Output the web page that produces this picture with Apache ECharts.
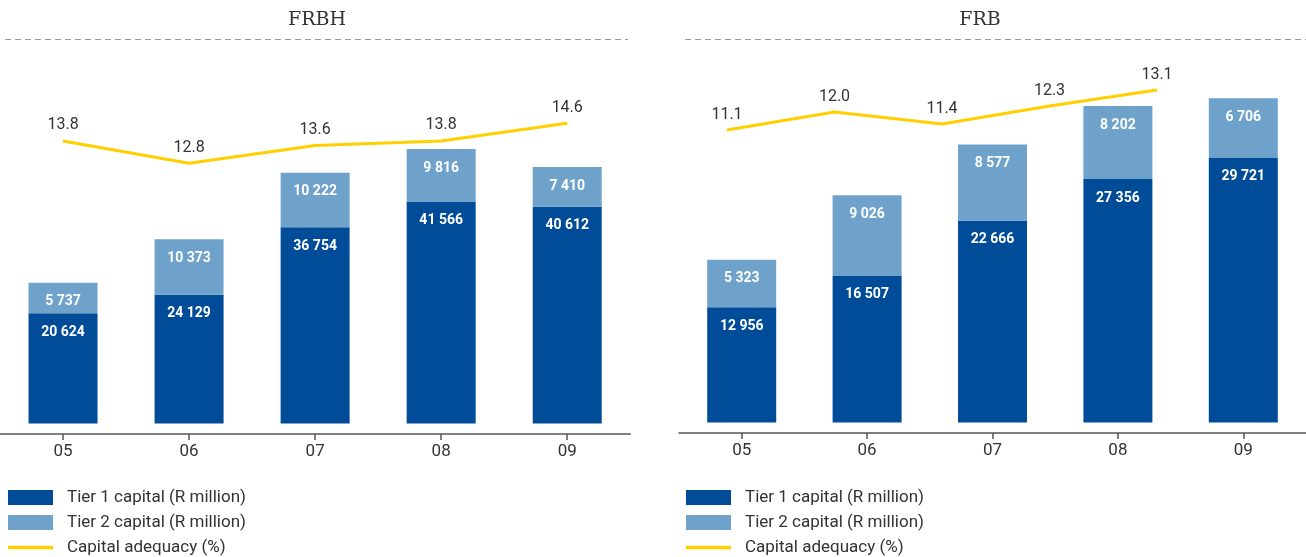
<!DOCTYPE html>
<html>
<head>
<meta charset="utf-8">
<script src="https://cdn.jsdelivr.net/npm/echarts@6/dist/echarts.min.js"></script>
<style>
html,body{margin:0;padding:0;background:#fff;}
#chart{width:1306px;height:557px;}
</style>
</head>
<body>
<div id="chart"></div>
<script>
const categories = ['05', '06', '07', '08', '09'];
const frbhTier1 = [20624, 24129, 36754, 41566, 40612];
const frbhTier2 = [5737, 10373, 10222, 9816, 7410];
const frbhCar = [13.8, 12.8, 13.6, 13.8, 14.6];
const frbTier1 = [12956, 16507, 22666, 27356, 29721];
const frbTier2 = [5323, 9026, 8577, 8202, 6706];
const frbCar = [11.1, 12.0, 11.4, 12.3, 13.1];
const panelTitles = ['FRBH', 'FRB'];
const seriesNames = ['Tier 1 capital (R million)', 'Tier 2 capital (R million)', 'Capital adequacy (%)'];

const DARK = '#014C98';
const LIGHT = '#6FA2CB';
const YELLOW = '#FFCF00';

function fmtThousands(v) {
  return String(v).replace(/\B(?=(\d{3})+(?!\d))/g, ' ');
}

const barLabel = {
  show: true,
  position: 'insideTop',
  distance: 12,
  color: '#fff',
  fontSize: 14,
  fontWeight: 'bold',
  fontFamily: 'Roboto',
  formatter: p => fmtThousands(p.value)
};
const lineLabel = {
  show: true,
  position: 'top',
  distance: 7,
  color: '#333',
  fontSize: 16,
  fontFamily: 'Roboto',
  formatter: p => p.value.toFixed(1)
};

function catAxis(gridIndex, visible) {
  return {
    type: 'category',
    gridIndex: gridIndex,
    data: categories,
    show: visible,
    boundaryGap: true,
    axisLine: { show: true, onZero: false, lineStyle: { color: '#555', width: 1.5 } },
    axisTick: { show: true, alignWithLabel: true, length: 6, lineStyle: { color: '#555', width: 1.5 } },
    axisLabel: { color: '#333', fontSize: 17, fontFamily: 'Roboto', margin: 9 }
  };
}
function valAxis(gridIndex, min, max) {
  return { type: 'value', gridIndex: gridIndex, min: min, max: max, show: false, splitLine: { show: false } };
}

function legend(left) {
  return {
    orient: 'vertical',
    left: left,
    top: 489,
    height: 90,
    width: 400,
    padding: 0,
    itemWidth: 45,
    itemHeight: 15,
    itemGap: 8,
    symbolKeepAspect: true,
    textStyle: { fontSize: 17, color: '#333', fontFamily: 'Roboto', lineHeight: 15, padding: [0, 0, 0, 9] },
    data: [
      { name: seriesNames[0], icon: 'rect' },
      { name: seriesNames[1], icon: 'rect' },
      { name: seriesNames[2], icon: 'path://M0,0H40V3H0Z' }
    ]
  };
}

const chart = echarts.init(document.getElementById('chart'), null, { renderer: 'canvas' });
chart.setOption({
  animation: false,
  backgroundColor: '#fff',
  textStyle: { fontFamily: 'Roboto' },
  grid: [
    { left: -2.25, width: 632.5, top: 40, height: 394 },
    { left: 679, width: 631, top: 40, height: 393 },
    { left: 673.25, width: 537.5, top: 40, height: 393 }
  ],
  xAxis: [catAxis(0, true), catAxis(1, true), catAxis(2, false)],
  yAxis: [
    valAxis(0, -1966, 71817),
    valAxis(0, 0.6, 18.35),
    valAxis(1, -1180, 42977),
    valAxis(2, -4.05, 15.6)
  ],
  legend: [legend(8), legend(686)],
  graphic: [
    { type: 'text', x: 317, y: 20, style: { text: panelTitles[0], font: '19px "DejaVu Serif"', fill: '#333', textAlign: 'center', textVerticalAlign: 'middle' } },
    { type: 'text', x: 980, y: 20, style: { text: panelTitles[1], font: '19px "DejaVu Serif"', fill: '#333', textAlign: 'center', textVerticalAlign: 'middle' } },
    { type: 'line', shape: { x1: 5, y1: 39.5, x2: 628, y2: 39.5 }, style: { stroke: '#999', lineWidth: 1, lineDash: [6, 4] } },
    { type: 'line', shape: { x1: 685, y1: 39.5, x2: 1306, y2: 39.5 }, style: { stroke: '#999', lineWidth: 1, lineDash: [6, 4] } }
  ],
  series: [
    { name: seriesNames[0], type: 'bar', xAxisIndex: 0, yAxisIndex: 0, stack: 'frbh', barWidth: 69, data: frbhTier1, itemStyle: { color: DARK }, label: barLabel },
    { name: seriesNames[1], type: 'bar', xAxisIndex: 0, yAxisIndex: 0, stack: 'frbh', barWidth: 69, data: frbhTier2, itemStyle: { color: LIGHT }, label: barLabel },
    { name: seriesNames[2], type: 'line', xAxisIndex: 0, yAxisIndex: 1, data: frbhCar, symbol: 'circle', symbolSize: 1, itemStyle: { color: YELLOW }, lineStyle: { color: YELLOW, width: 3 }, label: lineLabel, z: 5 },
    { name: seriesNames[0], type: 'bar', xAxisIndex: 1, yAxisIndex: 2, stack: 'frb', barWidth: 69, data: frbTier1, itemStyle: { color: DARK }, label: barLabel },
    { name: seriesNames[1], type: 'bar', xAxisIndex: 1, yAxisIndex: 2, stack: 'frb', barWidth: 69, data: frbTier2, itemStyle: { color: LIGHT }, label: barLabel },
    { name: seriesNames[2], type: 'line', xAxisIndex: 2, yAxisIndex: 3, data: frbCar, symbol: 'circle', symbolSize: 1, itemStyle: { color: YELLOW }, lineStyle: { color: YELLOW, width: 3 }, label: lineLabel, z: 5 }
  ]
});
</script>
</body>
</html>
